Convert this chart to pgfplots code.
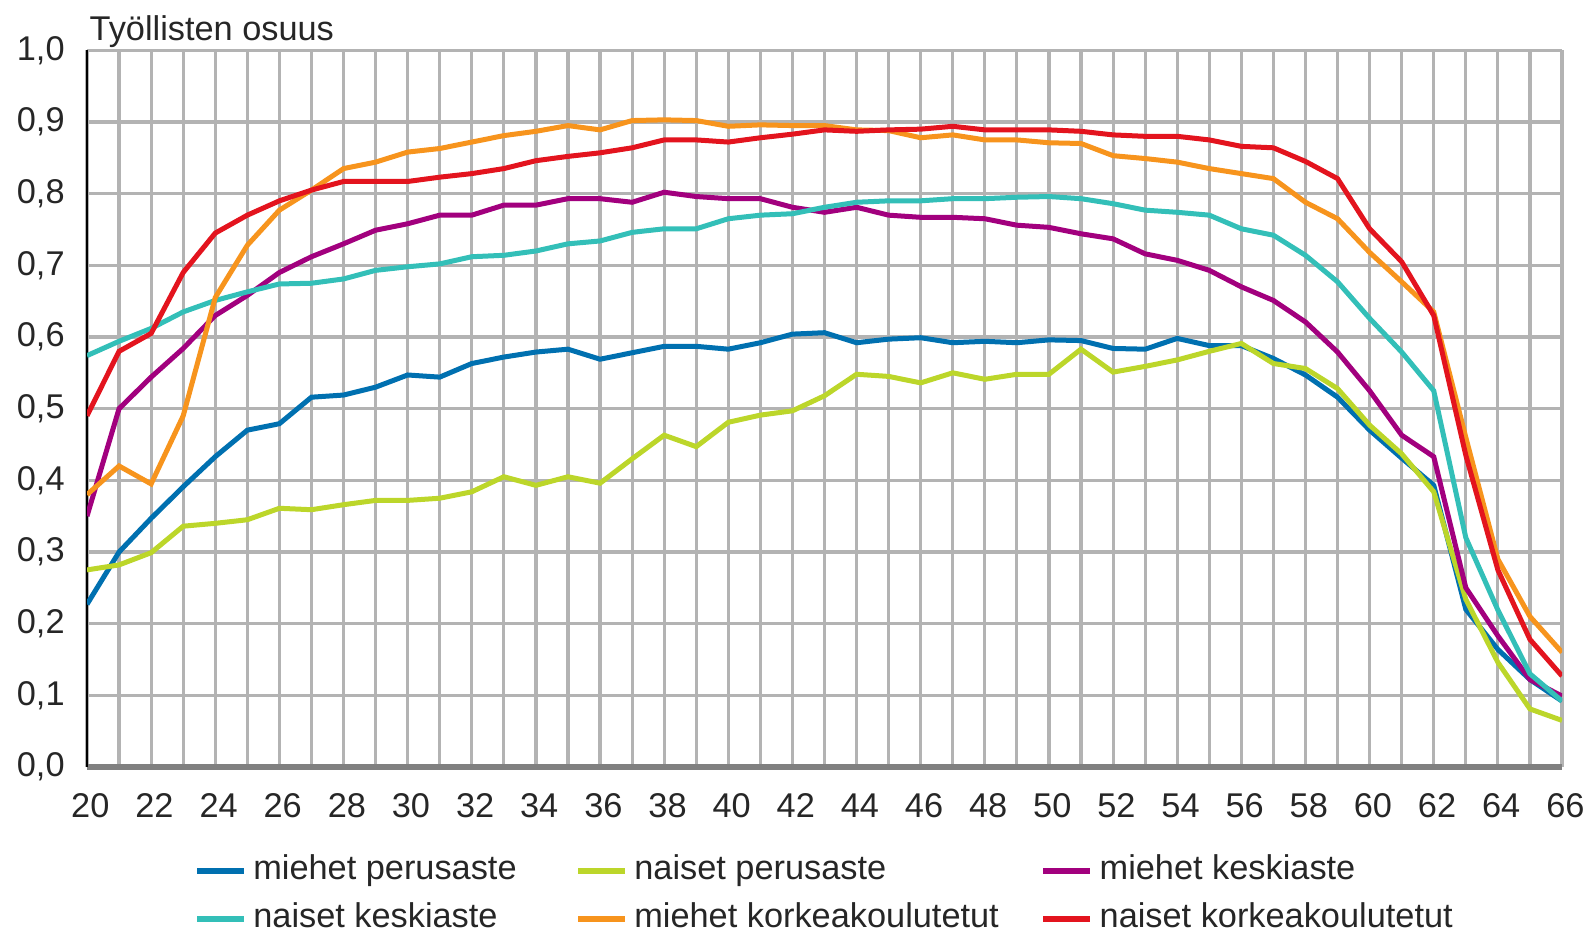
\documentclass[border=0pt]{standalone}
\usepackage{fontspec}
\setmainfont{Liberation Sans}
\usepackage{pgfplots}
\usepackage{pgfplotstable}
\pgfplotsset{compat=1.18}

\definecolor{cblue}{HTML}{0070B0}
\definecolor{clime}{HTML}{BCD62A}
\definecolor{cmag}{HTML}{A2007E}
\definecolor{cteal}{HTML}{33BFB8}
\definecolor{corange}{HTML}{F7941D}
\definecolor{cred}{HTML}{E3141E}
\definecolor{gridgray}{HTML}{B3B3B3}

% ika, miehet/naiset perusaste, keskiaste, korkeakoulutetut
\pgfplotstableread{
age mp np mk nk mkk nkk
20 0.227 0.275 0.350 0.574 0.380 0.490
21 0.300 0.282 0.500 0.594 0.420 0.580
22 0.347 0.299 0.544 0.612 0.395 0.605
23 0.391 0.336 0.584 0.635 0.490 0.690
24 0.433 0.340 0.630 0.651 0.655 0.745
25 0.470 0.345 0.658 0.663 0.728 0.770
26 0.479 0.361 0.690 0.674 0.777 0.790
27 0.516 0.359 0.712 0.675 0.805 0.805
28 0.519 0.366 0.730 0.681 0.835 0.817
29 0.530 0.372 0.749 0.693 0.844 0.817
30 0.547 0.372 0.758 0.698 0.858 0.817
31 0.544 0.375 0.770 0.702 0.863 0.823
32 0.563 0.384 0.770 0.712 0.872 0.828
33 0.572 0.405 0.784 0.714 0.881 0.835
34 0.579 0.393 0.784 0.720 0.887 0.846
35 0.583 0.405 0.793 0.730 0.895 0.852
36 0.569 0.396 0.793 0.734 0.889 0.857
37 0.578 0.430 0.788 0.746 0.902 0.864
38 0.587 0.463 0.802 0.751 0.903 0.875
39 0.587 0.447 0.796 0.751 0.902 0.875
40 0.583 0.481 0.793 0.765 0.894 0.872
41 0.592 0.491 0.793 0.770 0.896 0.878
42 0.604 0.497 0.781 0.772 0.895 0.883
43 0.606 0.518 0.774 0.781 0.895 0.889
44 0.592 0.548 0.781 0.788 0.889 0.887
45 0.597 0.545 0.770 0.790 0.888 0.889
46 0.599 0.536 0.767 0.790 0.878 0.890
47 0.592 0.550 0.767 0.793 0.882 0.894
48 0.594 0.541 0.765 0.793 0.875 0.889
49 0.592 0.548 0.756 0.795 0.875 0.889
50 0.596 0.548 0.753 0.796 0.871 0.889
51 0.595 0.583 0.744 0.793 0.870 0.887
52 0.584 0.551 0.737 0.786 0.853 0.882
53 0.583 0.559 0.716 0.777 0.849 0.880
54 0.598 0.568 0.707 0.774 0.844 0.880
55 0.588 0.580 0.693 0.770 0.835 0.875
56 0.588 0.591 0.670 0.751 0.828 0.866
57 0.570 0.563 0.651 0.742 0.821 0.864
58 0.547 0.556 0.621 0.714 0.788 0.845
59 0.516 0.528 0.579 0.677 0.765 0.821
60 0.470 0.477 0.525 0.626 0.718 0.751
61 0.431 0.437 0.463 0.579 0.677 0.705
62 0.393 0.384 0.433 0.525 0.635 0.630
63 0.220 0.234 0.250 0.320 0.460 0.435
64 0.164 0.146 0.183 0.219 0.290 0.275
65 0.122 0.081 0.122 0.130 0.210 0.178
66 0.092 0.065 0.099 0.092 0.160 0.127
}\data

\newcommand{\fs}{\fontsize{10.3bp}{12bp}\selectfont}

\begin{document}
\begin{tikzpicture}
\begin{axis}[
  name=ax,
  scale only axis, width=442.5bp, height=215bp,
  xmin=20, xmax=66, ymin=0, ymax=1,
  xtick={20,22,...,66}, minor xtick={21,23,...,65},
  ytick={0,0.1,...,1.0},
  grid=both,
  major grid style={gridgray, line width=0.95bp},
  minor grid style={gridgray, line width=0.95bp},
  major tick length=0pt, minor tick length=0pt,
  axis x line=bottom, axis y line=left,
  x axis line style={-, draw=black!50, line width=1.6bp},
  y axis line style={-, draw=black, line width=0.6bp},
  tick label style={font=\fs, text=black!85},
  /pgf/number format/assume math mode=true,
  yticklabel style={/pgf/number format/fixed, /pgf/number format/fixed zerofill,
    /pgf/number format/precision=1, /pgf/number format/use comma},
  yticklabel style={anchor=east, xshift=-3.2bp},
  xticklabel style={anchor=center, yshift=-11.7bp, xshift=1bp},
  every axis plot/.append style={line width=1.5bp, mark=none},
  legend columns=3,
  legend cell align=left,
  legend image code/.code={\draw[#1, line width=1.8bp] (0bp,0bp) -- (14bp,0bp);},
  legend style={
    at={(0,0)}, anchor=north west, xshift=31.9bp, yshift=-26bp,
    draw=none, fill=none, inner sep=0pt, font=\fs, text=black!85,
    nodes={inner sep=0pt, text height=7.5bp, text depth=2.2bp},
    row sep=4.7bp,
    /tikz/every odd column/.append style={column sep=2.0bp},
    /tikz/every even column/.append style={column sep=0bp},
  },
]
\addplot[cblue] table[x=age, y=mp] {\data};
\addlegendentry{\makebox[96.5bp][l]{miehet perusaste}}
\addplot[clime] table[x=age, y=np] {\data};
\addlegendentry{\makebox[121.8bp][l]{naiset perusaste}}
\addplot[cmag] table[x=age, y=mk] {\data};
\addlegendentry{miehet keskiaste}
\addplot[cteal] table[x=age, y=nk] {\data};
\addlegendentry{\makebox[96.5bp][l]{naiset keskiaste}}
\addplot[corange] table[x=age, y=mkk] {\data};
\addlegendentry{\makebox[121.8bp][l]{miehet korkeakoulutetut}}
\addplot[cred] table[x=age, y=nkk] {\data};
\addlegendentry{naiset korkeakoulutetut}
\end{axis}
\node[anchor=base west, inner sep=0pt, font=\fs, text=black!85]
  at ([xshift=0.6bp, yshift=2.8bp]ax.north west) {Työllisten osuus};
\pgfresetboundingbox
\path (ax.south west) ++(-26.1bp,-49.8bp) rectangle ++(477bp,279.9bp);
\end{tikzpicture}
\end{document}
